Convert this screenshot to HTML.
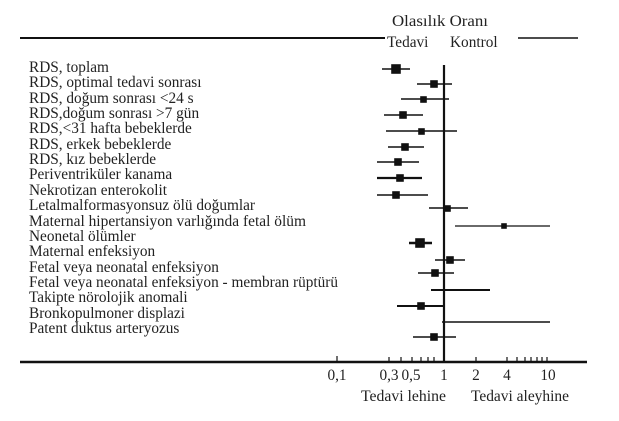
<!DOCTYPE html>
<html><head><meta charset="utf-8"><style>
html,body{margin:0;padding:0;background:#fff;}
svg{display:block;}
text{font-family:"Liberation Serif",serif;font-size:15.3px;fill:#222;}
</style></head><body>
<svg width="619" height="421" xmlns="http://www.w3.org/2000/svg">
<g stroke="#111">
<line x1="20" y1="38" x2="385" y2="38" stroke-width="2"/>
<line x1="518" y1="38" x2="578" y2="38" stroke-width="1.5"/>
<line x1="20" y1="362" x2="587" y2="362" stroke-width="2.5"/>
<line x1="444" y1="65" x2="444" y2="362" stroke-width="2.2"/>
</g>
<text x="392" y="26" textLength="96" lengthAdjust="spacingAndGlyphs">Olasılık Oranı</text>
<text x="387" y="47">Tedavi</text>
<text x="450" y="47">Kontrol</text>
<g>
<text x="29" y="72">RDS, toplam</text>
<text x="29" y="87">RDS, optimal tedavi sonrası</text>
<text x="29" y="103">RDS, doğum sonrası &lt;24 s</text>
<text x="29" y="118">RDS,doğum sonrası &gt;7 gün</text>
<text x="29" y="133">RDS,&lt;31 hafta bebeklerde</text>
<text x="29" y="149">RDS, erkek bebeklerde</text>
<text x="29" y="164">RDS, kız bebeklerde</text>
<text x="29" y="179">Periventriküler kanama</text>
<text x="29" y="195">Nekrotizan enterokolit</text>
<text x="29" y="210">Letalmalformasyonsuz ölü doğumlar</text>
<text x="29" y="226" textLength="277" lengthAdjust="spacingAndGlyphs">Maternal hipertansiyon varlığında fetal ölüm</text>
<text x="29" y="241">Neonetal ölümler</text>
<text x="29" y="256">Maternal enfeksiyon</text>
<text x="29" y="272">Fetal veya neonatal enfeksiyon</text>
<text x="29" y="287" textLength="309" lengthAdjust="spacingAndGlyphs">Fetal veya neonatal enfeksiyon - membran rüptürü</text>
<text x="29" y="302">Takipte nörolojik anomali</text>
<text x="29" y="318">Bronkopulmoner displazi</text>
<text x="29" y="333">Patent duktus arteryozus</text>
</g>
<g stroke="#111" stroke-width="1.6" fill="#111">
<line x1="382" y1="69" x2="410" y2="69"/><rect x="392" y="65" width="8" height="8"/>
<line x1="417" y1="84" x2="452" y2="84"/><rect x="431" y="81" width="6" height="6"/>
<line x1="401" y1="99" x2="449" y2="99"/><rect x="421" y="97" width="5" height="5"/>
<line x1="384" y1="115" x2="423" y2="115"/><rect x="400" y="112" width="6" height="6"/>
<line x1="386" y1="131" x2="457" y2="131"/><rect x="419" y="129" width="5" height="5"/>
<line x1="388" y1="147" x2="424" y2="147"/><rect x="402" y="144" width="6" height="6"/>
<line x1="377" y1="162" x2="419" y2="162"/><rect x="395" y="159" width="6" height="6"/>
<line x1="377" y1="178" x2="422" y2="178" stroke-width="2.2"/><rect x="397" y="175" width="6" height="6"/>
<line x1="377" y1="195" x2="428" y2="195"/><rect x="393" y="192" width="6" height="6"/>
<line x1="429" y1="208" x2="468" y2="208"/><rect x="445" y="206" width="5" height="5"/>
<line x1="455" y1="226" x2="550" y2="226" stroke-width="1.2"/><rect x="502" y="224" width="4" height="4"/>
<line x1="409" y1="243" x2="432" y2="243" stroke-width="2.4"/><rect x="416" y="239" width="8" height="8"/>
<line x1="435" y1="260" x2="465" y2="260"/><rect x="447" y="257" width="6" height="6"/>
<line x1="418" y1="273" x2="454" y2="273"/><rect x="432" y="270" width="6" height="6"/>
<line x1="431" y1="290" x2="490" y2="290" stroke-width="2"/>
<line x1="397" y1="306" x2="443" y2="306" stroke-width="2"/><rect x="418" y="303" width="6" height="6"/>
<line x1="442" y1="322" x2="550" y2="322" stroke-width="1.4"/>
<line x1="413" y1="337" x2="456" y2="337"/><rect x="431" y="334" width="6" height="6"/>
</g>
<g stroke="#111" stroke-width="1.2">
<line x1="337" y1="362" x2="337" y2="356"/><line x1="389" y1="362" x2="389" y2="357"/>
<line x1="401" y1="362" x2="401" y2="357"/><line x1="412" y1="362" x2="412" y2="357"/>
<line x1="421" y1="362" x2="421" y2="357"/><line x1="428" y1="362" x2="428" y2="357"/>
<line x1="434" y1="362" x2="434" y2="357"/><line x1="476" y1="362" x2="476" y2="357"/>
<line x1="507" y1="362" x2="507" y2="357"/><line x1="517" y1="362" x2="517" y2="357"/>
<line x1="525" y1="362" x2="525" y2="357"/><line x1="531" y1="362" x2="531" y2="357"/>
<line x1="537" y1="362" x2="537" y2="357"/><line x1="542" y1="362" x2="542" y2="357"/>
<line x1="547" y1="362" x2="547" y2="357"/>
</g>
<text x="337" y="380" text-anchor="middle">0,1</text>
<text x="389" y="380" text-anchor="middle">0,3</text>
<text x="411" y="380" text-anchor="middle">0,5</text>
<text x="444" y="380" text-anchor="middle">1</text>
<text x="476" y="380" text-anchor="middle">2</text>
<text x="507" y="380" text-anchor="middle">4</text>
<text x="548" y="380" text-anchor="middle">10</text>
<text x="361" y="401" textLength="85" lengthAdjust="spacingAndGlyphs">Tedavi lehine</text>
<text x="471" y="401" textLength="98" lengthAdjust="spacingAndGlyphs">Tedavi aleyhine</text>
</svg>
</body></html>
